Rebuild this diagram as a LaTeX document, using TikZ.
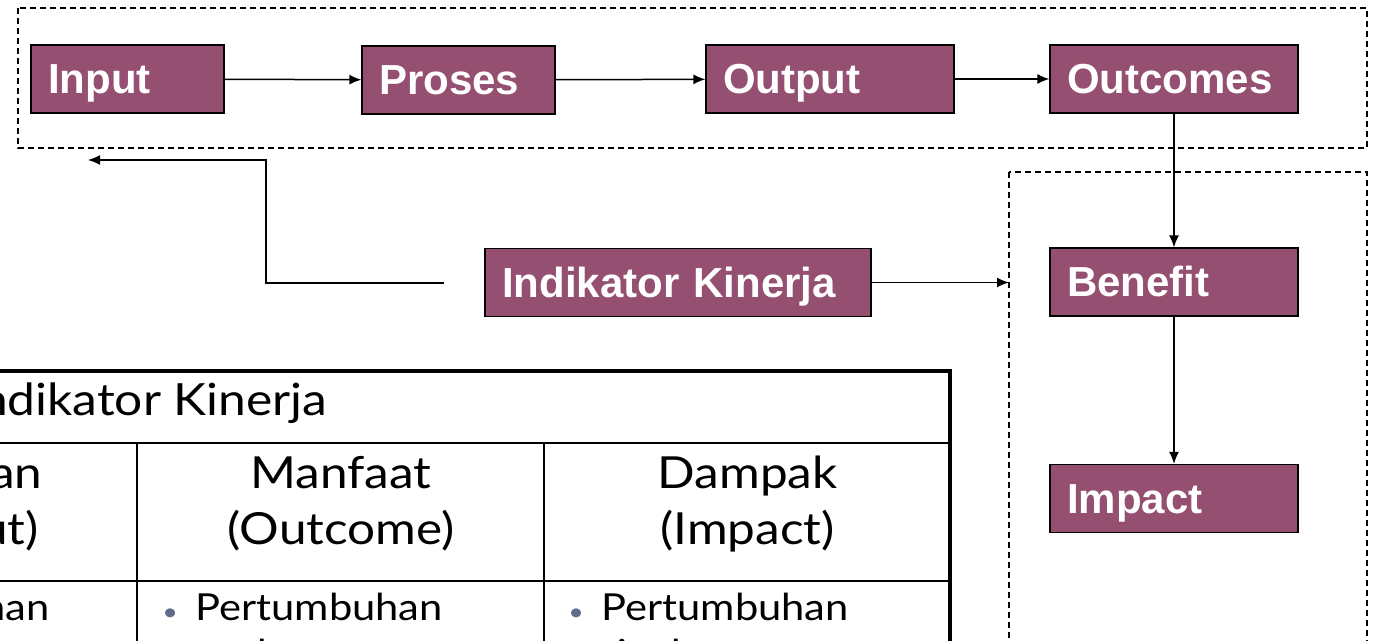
\documentclass[tikz,border=0pt]{standalone}
\usepackage{fontspec}
\setmainfont{Liberation Sans}
\newfontfamily\tabelfont[FakeStretch=1.12]{Lato}
\usetikzlibrary{arrows.meta}
\definecolor{ungu}{RGB}{148,79,113}
\definecolor{abubiru}{RGB}{95,108,140}
\newcommand{\butir}{\makebox[17.5pt][l]{\hspace{1pt}\textcolor{abubiru}{\fontsize{12}{12}\selectfont\textbullet}}}

\begin{document}
\begin{tikzpicture}[x=0.5pt,y=-0.5pt]
      \tikzstyle{kotak}=[draw,fill=ungu,text=white,font=\bfseries\fontsize{21}{25}\selectfont,
                         minimum height=34pt,inner xsep=8.5pt,text height=15pt,text depth=0pt,
                         align=left,line width=0.6pt]
      \tikzstyle{panah}=[-{Latex[length=6pt,width=5pt]},line width=0.75pt]
      \tikzstyle{putus}=[draw,dash pattern=on 3pt off 2pt,line width=0.6pt]
      \tikzstyle{kepala}=[font=\tabelfont\fontsize{22.1}{28}\selectfont,align=center,inner sep=0pt]
      \tikzstyle{isi}=[font=\tabelfont\fontsize{18.6}{23}\selectfont,align=left,inner sep=0pt]
      \useasboundingbox (0,0) rectangle (1382,641);
      \clip (0,0) rectangle (1382,641);

      % area dashed
      \draw[putus] (18,8) rectangle (1367,148);
      \draw[putus] (1009,172) rectangle (1367,700);
      \coordinate (areakiri) at (1009,280);

      % tabel indikator kinerja
      \draw[line width=1.2pt] (-675,443) -- (950,443);
      \draw[line width=1.2pt] (-675,581) -- (950,581);
      \foreach \x in {-269,137,544}
          \draw[line width=1.2pt] (\x,443) -- (\x,700);
      \draw[line width=2.4pt] (-675,700) -- (-675,371) -- (950,371) -- (950,700);
      \node (judul) [kepala,font=\tabelfont\fontsize{22.2}{24}\selectfont,anchor=base east]
          at (328,416) {Indikator Kinerja};
      % baris bertingkat: base = baris terakhir
      \node (keluaran) [kepala,anchor=base] at (-53,545) {Keluaran\\(Output)};
      \node (manfaat) [kepala,anchor=base] at (341,545) {Manfaat\\(Outcome)};
      \node (dampak) [kepala,anchor=base] at (747.5,545) {Dampak\\(Impact)};
      \node (keluaranisi) [isi,anchor=base east] at (50,620) {Pertumbuhan};
      \node (manfaatisi) [isi,anchor=base west] at (160,666)
          {\butir Pertumbuhan\\\hspace*{17.5pt}usaha};
      \node (dampakisi) [isi,anchor=base west] at (566,666)
          {\butir Pertumbuhan\\\hspace*{17.5pt}tingkat};

      % alur
      \node (input) [kotak,text width=79.5pt] at (127.5,79) {Input};
      \node (proses) [kotak,text width=79.5pt] at (458.5,80) {Proses};
      \node (output) [kotak,text width=107pt] at (830,79) {Output};
      \node (outcomes) [kotak,text width=107pt] at (1174,79) {Outcomes};
      \node (benefit) [kotak,text width=107pt] at (1174,282) {Benefit};
      \node (impact) [kotak,text width=107pt] at (1174,498.5) {Impact};
      \node (indikator) [kotak,text width=176pt] at (678,282.5) {Indikator Kinerja};
      \coordinate (balikawal) at (444,283);
      \coordinate (balikbelok) at (266,160);
      \coordinate (balikujung) at (88,160);

      \draw[panah] (input) -- (proses);
      \draw[panah] (proses) -- (output);
      \draw[panah] (output) -- (outcomes);
      \draw[panah] (outcomes) -- (benefit);
      \draw[panah] (benefit) -- (impact);
      \draw[panah] (indikator.east) -- (indikator.east -| areakiri);
      \draw[panah] (balikawal) -| (balikbelok) -- (balikujung);
\end{tikzpicture}
\end{document}
